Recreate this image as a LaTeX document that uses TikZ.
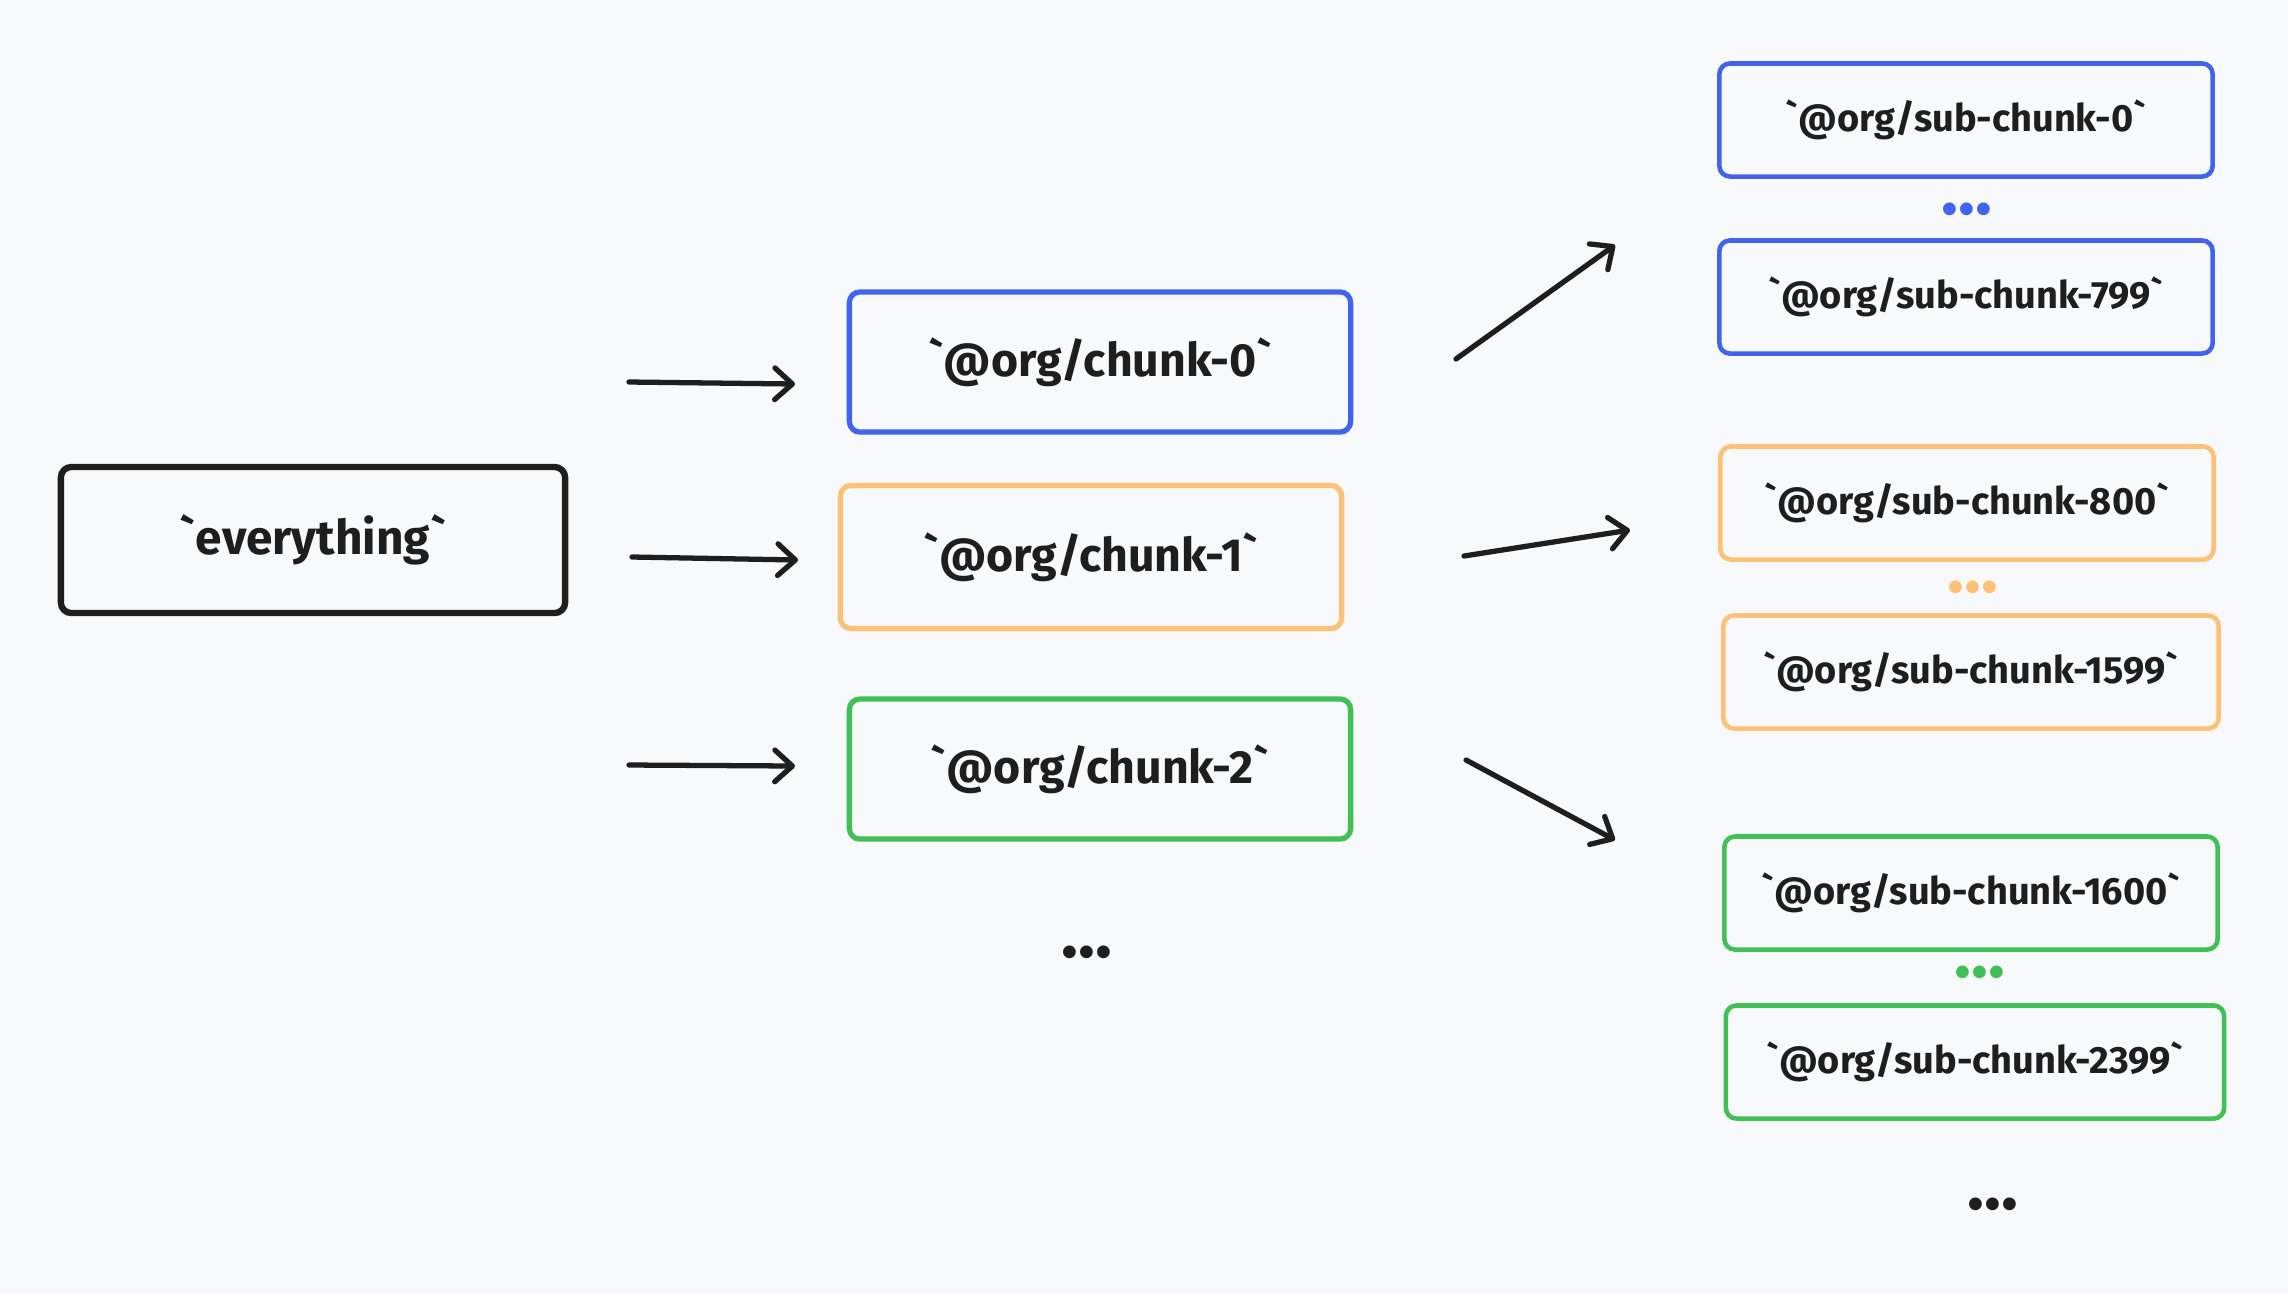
\documentclass[tikz,border=0pt]{standalone}
\usepackage{fontspec}
\setmainfont{Fira Sans}
\usetikzlibrary{arrows.meta}
\definecolor{ink}{HTML}{1E1E1E}
\definecolor{blueline}{HTML}{4263EB}
\definecolor{orangeline}{HTML}{FFC078}
\definecolor{greenline}{HTML}{40C057}
\definecolor{paper}{HTML}{F8F9FA}
\newcommand{\grv}{\textasciigrave}

\begin{document}
\begin{tikzpicture}[x=0.01cm, y=-0.01cm,
	box/.style={draw, line width=1.5pt, rounded corners=3pt, text=ink,
		minimum width=5.01cm, minimum height=1.4cm, font=\fontsize{13.2}{16}\selectfont\bfseries},
	sub/.style={box, line width=1.3pt, minimum width=4.93cm, minimum height=1.13cm,
		font=\fontsize{10.8}{14}\selectfont\bfseries},
	flow/.style={draw=ink, line width=1.5pt, line cap=round,
		-{Straight Barb[round, length=5pt, width=9pt]}},
	more/.style={inner sep=0pt, font=\fontsize{20}{20}\selectfont\bfseries}]
	\fill[paper] (0,0) rectangle (2288,1293);
	\useasboundingbox (0,0) rectangle (2288,1293);

	\node[box, draw=ink, line width=1.8pt, minimum width=5.04cm, minimum height=1.46cm,
		font=\fontsize{13.6}{16}\selectfont\bfseries] (all) at (313,540) {\grv everything\grv};

	\node[box, draw=blueline] (chunk0) at (1100,362) {\grv @org/chunk-0\grv};
	\node[box, draw=orangeline, minimum height=1.43cm] (chunk1) at (1091,557) {\grv @org/chunk-1\grv};
	\node[box, draw=greenline] (chunk2) at (1100,769) {\grv @org/chunk-2\grv};
	\node[more, text=ink] (moremid) at (1087,952) {...};

	\node[sub, draw=blueline] (sub0) at (1966,120) {\grv @org/sub-chunk-0\grv};
	\node[more, text=blueline] (dotsblue) at (1967,209) {...};
	\node[sub, draw=blueline] (sub799) at (1966,297) {\grv @org/sub-chunk-799\grv};
	\node[sub, draw=orangeline] (sub800) at (1967,503) {\grv @org/sub-chunk-800\grv};
	\node[more, text=orangeline] (dotsorange) at (1973,587) {...};
	\node[sub, draw=orangeline, minimum width=4.95cm] (sub1599) at (1971,672) {\grv @org/sub-chunk-1599\grv};
	\node[sub, draw=greenline, minimum width=4.93cm] (sub1600) at (1971,893) {\grv @org/sub-chunk-1600\grv};
	\node[more, text=greenline] (dotsgreen) at (1980,972) {...};
	\node[sub, draw=greenline, minimum width=4.98cm] (sub2399) at (1975,1062) {\grv @org/sub-chunk-2399\grv};
	\node[more, text=ink] (moreright) at (1993,1204) {...};

	% arrows into the chunks
	\coordinate (in0) at (629,382);  \coordinate (to0) at (795,384);
	\coordinate (in1) at (632,557);  \coordinate (to1) at (798,560);
	\coordinate (in2) at (629,765);  \coordinate (to2) at (795,766);
	\draw[flow] (in0) -- (to0);
	\draw[flow] (in1) -- (to1);
	\draw[flow] (in2) -- (to2);

	% arrows out to the sub-chunks
	\coordinate (out0) at (1456,359); \coordinate (up0) at (1615,245);
	\coordinate (out1) at (1464,556); \coordinate (up1) at (1630,530);
	\coordinate (out2) at (1466,760); \coordinate (up2) at (1615,840);
	\draw[flow] (out0) -- (up0);
	\draw[flow] (out1) -- (up1);
	\draw[flow] (out2) -- (up2);
\end{tikzpicture}
\end{document}
